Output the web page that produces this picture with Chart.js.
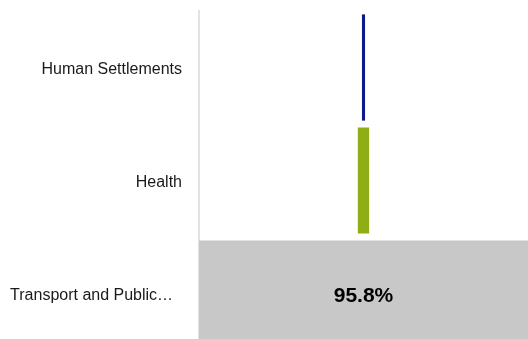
<!DOCTYPE html>
<html>
<head>
<meta charset="utf-8">
<script src="https://cdn.jsdelivr.net/npm/chart.js@4/dist/chart.umd.min.js"></script>
<style>
  html, body { margin: 0; padding: 0; background: #fff; }
  #wrap { width: 528px; height: 339px; overflow: hidden; }
</style>
</head>
<body>
<div id="wrap">
  <canvas id="funnel" width="528" height="350"></canvas>
</div>
<script>
  // sectors, top to bottom (long name is cut with a trailing gap)
  const sectors = ["Human Settlements", "Health", "Transport and Public\u2026  "];
  // share of total, in percent
  const shares = [0.9, 3.3, 95.8];
  const barColors = ["#0c1a8f", "#8fae15", "#c8c8c8"];

  const maxShare = Math.max(...shares);

  // funnel look: each bar is centred on zero
  const centred = shares.map(v => [-v / 2, v / 2]);

  // writes the percentage inside a bar when it fits
  const shareLabels = {
    id: "shareLabels",
    afterDatasetsDraw(chart) {
      const { ctx } = chart;
      const meta = chart.getDatasetMeta(0);
      ctx.save();
      ctx.font = "bold 21px 'Liberation Sans', Arial, sans-serif";
      ctx.fillStyle = "#000";
      ctx.textAlign = "center";
      ctx.textBaseline = "middle";
      meta.data.forEach((bar, i) => {
        const text = shares[i].toFixed(1) + "%";
        const w = Math.abs(bar.x - bar.base);
        if (w < ctx.measureText(text).width + 10) return;
        ctx.fillText(text, (bar.x + bar.base) / 2, bar.y + 3);
      });
      ctx.restore();
    },
  };

  new Chart(document.getElementById("funnel"), {
    type: "bar",
    data: {
      labels: sectors,
      datasets: [
        {
          data: centred,
          backgroundColor: barColors,
          borderWidth: 0,
          barPercentage: 0.94,
          categoryPercentage: 1,
        },
      ],
    },
    options: {
      indexAxis: "y",
      responsive: false,
      animation: false,
      layout: { padding: { top: 11, right: 0, bottom: 0, left: 0 } },
      plugins: {
        legend: { display: false },
        tooltip: { enabled: false },
      },
      scales: {
        x: {
          display: false,
          min: -maxShare / 2,
          max: maxShare / 2,
        },
        y: {
          afterFit(scale) {
            scale.width = 199;
            scale.paddingTop = 0;
            scale.paddingBottom = 0;
          },
          grid: {
            drawOnChartArea: false,
            drawTicks: true,
            tickLength: 17,
            color: "transparent",
          },
          border: { display: true, color: "#e2e2e2", width: 2 },
          ticks: {
            padding: 0,
            labelOffset: 2,
            color: "#1a1a1a",
            font: { family: "'Liberation Sans', Arial, sans-serif", size: 16 },
          },
        },
      },
    },
    plugins: [shareLabels],
  });
</script>
</body>
</html>
